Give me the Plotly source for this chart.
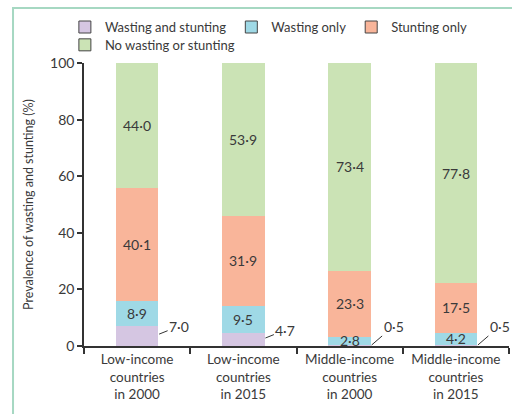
import plotly.graph_objects as go

categories = ["Low-income<br>countries<br>in 2000", "Low-income<br>countries<br>in 2015",
              "Middle-income<br>countries<br>in 2000", "Middle-income<br>countries<br>in 2015"]
series_names = ["Wasting and stunting", "Wasting only", "Stunting only", "No wasting or stunting"]
wasting_and_stunting = [7.0, 4.7, 0.5, 0.5]
wasting_only = [8.9, 9.5, 2.8, 4.2]
stunting_only = [40.1, 31.9, 23.3, 17.5]
no_wasting_or_stunting = [44.0, 53.9, 73.4, 77.8]
y_ticks = [0, 20, 40, 60, 80, 100]

colors = ["#d5c6e2", "#9fd9e6", "#f9b59a", "#cbe3b5"]
series = [wasting_and_stunting, wasting_only, stunting_only, no_wasting_or_stunting]
FONT = "Lato"
TXT = "#3a3a3a"

fig = go.Figure()
for name, vals, c in zip(series_names, series, colors):
    fig.add_trace(go.Bar(x=categories, y=vals, name=name, marker=dict(color=c, line=dict(width=0)),
                         width=0.4, showlegend=False, hoverinfo="skip"))
# legend entries (outlined swatches)
for i, (name, c) in enumerate(zip(series_names, colors)):
    fig.add_trace(go.Bar(x=[None], y=[None], name=name,
                         marker=dict(color=c, line=dict(color="#444", width=1)),
                         legend="legend" if i < 3 else "legend2"))

def fmt(v):
    return f"{v:.1f}".replace(".", "·")

annotations = []
# inside labels
for j, cat in enumerate(categories):
    base = 0
    for k, vals in enumerate(series):
        v = vals[j]
        if k > 0:
            annotations.append(dict(x=cat, y=base + v / 2, text=fmt(v), showarrow=False,
                                    font=dict(family=FONT, size=14, color=TXT)))
        base += v
# leader-line labels for the smallest segment
for j, cat in enumerate(categories):
    v = wasting_and_stunting[j]
    small = v < 2
    annotations.append(dict(x=cat, y=(0.35 if small else v * 0.6), text=fmt(v), showarrow=True,
                            arrowhead=0, arrowwidth=1, arrowcolor="#333",
                            ax=(22 if small else 20), ay=(-19 if small else -8), xshift=22,
                            font=dict(family=FONT, size=14, color=TXT)))

fig.update_layout(
    width=512, height=414,
    margin=dict(l=84, r=3, t=63, b=68, autoexpand=False),
    barmode="stack",
    plot_bgcolor="white", paper_bgcolor="white",
    font=dict(family=FONT, size=13, color=TXT),
    annotations=annotations,
    legend=dict(orientation="h", x=-0.045, xanchor="left", y=1.127, yanchor="middle",
                traceorder="normal",
                font=dict(family=FONT, size=13, color=TXT), bgcolor="rgba(0,0,0,0)",
                itemclick=False, itemwidth=30, tracegroupgap=0),
    legend2=dict(orientation="h", x=-0.045, xanchor="left", y=1.064, yanchor="middle",
                 traceorder="normal",
                 font=dict(family=FONT, size=13, color=TXT), bgcolor="rgba(0,0,0,0)",
                 itemclick=False, itemwidth=30),
    shapes=[dict(type="rect", xref="paper", yref="paper", x0=-0.167, x1=1.1, y0=-0.4, y1=1.194,
                 line=dict(color="#a6d8c2", width=2), layer="below")],
)
fig.update_yaxes(range=[0, 100], tickvals=y_ticks, ticks="outside", ticklen=5, tickwidth=1.5,
                 tickcolor="#333", showline=True, linecolor="#333", linewidth=1.5, showgrid=False,
                 zeroline=False, tickfont=dict(family=FONT, size=14, color=TXT),
                 title=dict(text="Prevalence of wasting and stunting (%)", standoff=14,
                            font=dict(family=FONT, size=12.5, color=TXT)))
fig.update_xaxes(tickson="boundaries", ticks="outside", ticklen=6, tickwidth=1.5, tickcolor="#333",
                 showline=True, linecolor="#333", linewidth=1.5, showgrid=False,
                 tickfont=dict(family=FONT, size=13.5, color=TXT), range=[-0.5, 3.5])

fig.write_html("out.html", config={"displayModeBar": False},
               post_script="document.body.style.margin='0';document.body.style.overflow='hidden';")
